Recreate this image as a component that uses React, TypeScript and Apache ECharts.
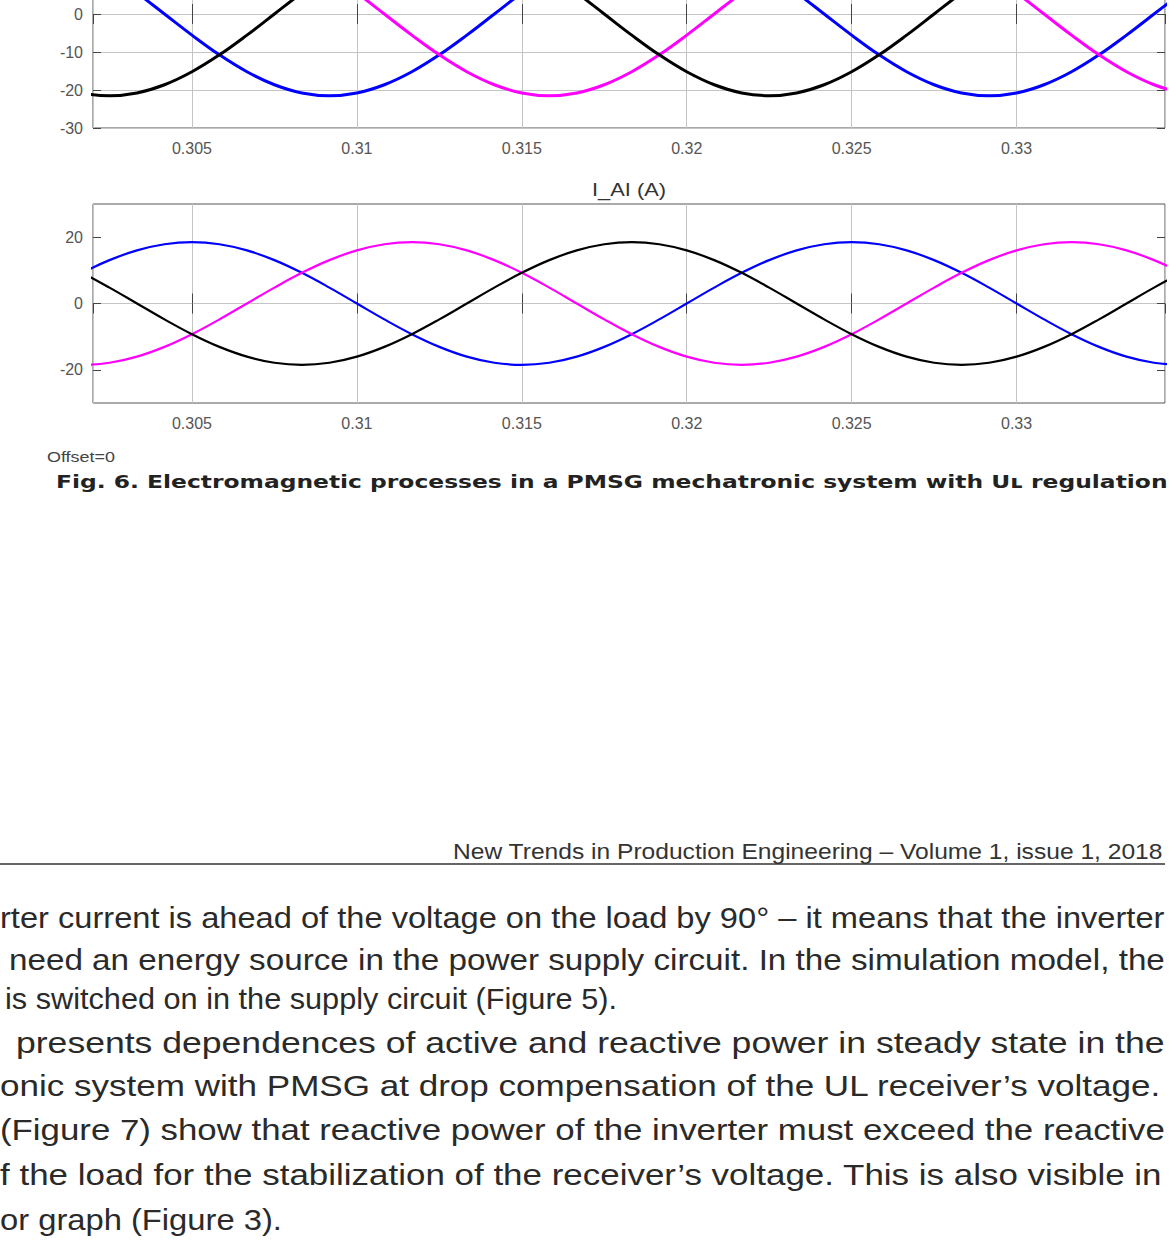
import React, { useEffect, useRef } from "react";
import * as echarts from "echarts";

// ---- data (samples every 15 electrical degrees) ----
const TIME = [
  0.300833, 0.301667, 0.3025, 0.303333, 0.304167, 0.305, 0.305833, 0.306667,
  0.3075, 0.308333, 0.309167, 0.31, 0.310833, 0.311667, 0.3125, 0.313333,
  0.314167, 0.315, 0.315833, 0.316667, 0.3175, 0.318333, 0.319167, 0.32,
  0.320833, 0.321667, 0.3225, 0.323333, 0.324167, 0.325, 0.325833, 0.326667,
  0.3275, 0.328333, 0.329167, 0.33, 0.330833, 0.331667, 0.3325, 0.333333,
  0.334167, 0.335,
];

// upper panel (voltage, only its lower half is visible)
const U_BLUE = [
  18.62, 15.2, 10.75, 5.56, 0, -5.56, -10.75, -15.2, -18.62, -20.77,
  -21.5, -20.77, -18.62, -15.2, -10.75, -5.56, 0, 5.56, 10.75, 15.2,
  18.62, 20.77, 21.5, 20.77, 18.62, 15.2, 10.75, 5.56, 0, -5.56,
  -10.75, -15.2, -18.62, -20.77, -21.5, -20.77, -18.62, -15.2, -10.75, -5.56,
  0, 5.56,
];
const U_MAGENTA = [
  0, 5.56, 10.75, 15.2, 18.62, 20.77, 21.5, 20.77, 18.62, 15.2,
  10.75, 5.56, 0, -5.56, -10.75, -15.2, -18.62, -20.77, -21.5, -20.77,
  -18.62, -15.2, -10.75, -5.56, 0, 5.56, 10.75, 15.2, 18.62, 20.77,
  21.5, 20.77, 18.62, 15.2, 10.75, 5.56, 0, -5.56, -10.75, -15.2,
  -18.62, -20.77,
];
const U_BLACK = [
  -18.62, -20.77, -21.5, -20.77, -18.62, -15.2, -10.75, -5.56, 0, 5.56,
  10.75, 15.2, 18.62, 20.77, 21.5, 20.77, 18.62, 15.2, 10.75, 5.56,
  0, -5.56, -10.75, -15.2, -18.62, -20.77, -21.5, -20.77, -18.62, -15.2,
  -10.75, -5.56, 0, 5.56, 10.75, 15.2, 18.62, 20.77, 21.5, 20.77,
  18.62, 15.2,
];

// lower panel I_AI (A)
const I_BLUE = [
  4.79, 9.25, 13.08, 16.02, 17.87, 18.5, 17.87, 16.02, 13.08, 9.25,
  4.79, 0, -4.79, -9.25, -13.08, -16.02, -17.87, -18.5, -17.87, -16.02,
  -13.08, -9.25, -4.79, 0, 4.79, 9.25, 13.08, 16.02, 17.87, 18.5,
  17.87, 16.02, 13.08, 9.25, 4.79, 0, -4.79, -9.25, -13.08, -16.02,
  -17.87, -18.5,
];
const I_MAGENTA = [
  -17.87, -18.5, -17.87, -16.02, -13.08, -9.25, -4.79, 0, 4.79, 9.25,
  13.08, 16.02, 17.87, 18.5, 17.87, 16.02, 13.08, 9.25, 4.79, 0,
  -4.79, -9.25, -13.08, -16.02, -17.87, -18.5, -17.87, -16.02, -13.08, -9.25,
  -4.79, 0, 4.79, 9.25, 13.08, 16.02, 17.87, 18.5, 17.87, 16.02,
  13.08, 9.25,
];
const I_BLACK = [
  13.08, 9.25, 4.79, 0, -4.79, -9.25, -13.08, -16.02, -17.87, -18.5,
  -17.87, -16.02, -13.08, -9.25, -4.79, 0, 4.79, 9.25, 13.08, 16.02,
  17.87, 18.5, 17.87, 16.02, 13.08, 9.25, 4.79, 0, -4.79, -9.25,
  -13.08, -16.02, -17.87, -18.5, -17.87, -16.02, -13.08, -9.25, -4.79, 0,
  4.79, 9.25,
];

const X_MIN = 0.302;
const X_MAX = 0.3345;
const Y_MIN = -30;
const Y_MAX = 30;
const LOWER_LABELS = [-20, 0, 20];

const CURRENT_TITLE = "I_AI (A)";
const OFFSET_LABEL = "Offset=0";
const CAPTION =
  "Fig. 6. Electromagnetic processes in a PMSG mechatronic system with U\u029F regulation";
const HEADER = "New Trends in Production Engineering \u2013 Volume 1, issue 1, 2018";
const BODY_LINES = [
  "rter current is ahead of the voltage on the load by 90\u00B0 \u2013 it means that the inverter",
  "need an energy source in the power supply circuit. In the simulation model, the",
  "is switched on in the supply circuit (Figure 5).",
  "presents dependences of active and reactive power in steady state in the",
  "onic system with PMSG at drop compensation of the UL receiver\u2019s voltage.",
  "(Figure 7) show that reactive power of the inverter must exceed the reactive",
  "f the load for the stabilization of the receiver\u2019s voltage. This is also visible in",
  "or graph (Figure 3).",
];

// ---- layout ----
const W = 1170;
const H = 1260;
const OFF = 120; // chart canvas starts above the page so the upper panel is cut
const BODY_LAYOUT = [
  [0, 1165, 918],
  [9, 1165, 960],
  [5, 617, 999],
  [16, 1165, 1043],
  [0, 1162, 1086],
  [0, 1165, 1130],
  [0, 1162, 1175],
  [0, 282, 1220],
];

const SANS = "Liberation Sans";

let measureCtx: CanvasRenderingContext2D | null = null;
function measureWidth(text: string, font: string) {
  if (!measureCtx) measureCtx = document.createElement("canvas").getContext("2d");
  if (!measureCtx) return 0;
  measureCtx.font = font;
  return measureCtx.measureText(text).width;
}

function fitText(
  text: string,
  left: number,
  right: number,
  cy: number,
  size: number,
  family: string,
  weight: string,
  fill: string
) {
  const w = measureWidth(text, `${weight} ${size}px "${family}"`);
  const s = w > 0 ? (right - left) / w : 1;
  return {
    type: "text",
    x: left,
    y: cy + OFF,
    scaleX: s,
    scaleY: 1,
    silent: true,
    z: 10,
    style: {
      text,
      fontSize: size,
      fontFamily: family,
      fontWeight: weight,
      fill,
      textAlign: "left",
      textVerticalAlign: "middle",
    },
  };
}

const LABEL = { fontSize: 16, color: "#555", fontFamily: SANS };
const GRID_LINE = "#c4c4c4";
const TICK = "#444";

function xAxes(gridIndex: number) {
  return [
    {
      gridIndex,
      type: "value",
      min: X_MIN,
      max: X_MAX,
      splitNumber: 6,
      position: "bottom",
      axisLine: { show: false },
      axisTick: { show: true, inside: true, length: 10, lineStyle: { color: TICK } },
      axisLabel: { ...LABEL, margin: 12, showMinLabel: false, showMaxLabel: false },
      splitLine: { show: true, lineStyle: { color: GRID_LINE, width: 1 } },
    },
    {
      gridIndex,
      type: "value",
      min: X_MIN,
      max: X_MAX,
      splitNumber: 6,
      position: "top",
      axisLine: { show: false },
      axisTick: { show: true, inside: true, length: 10, lineStyle: { color: TICK } },
      axisLabel: { show: false },
      splitLine: { show: false },
    },
  ];
}

function yAxes(gridIndex: number, lower: boolean) {
  const tick = lower
    ? { show: true, inside: true, length: 8, customValues: LOWER_LABELS, lineStyle: { color: TICK } }
    : { show: true, inside: true, length: 8, lineStyle: { color: TICK } };
  return [
    {
      gridIndex,
      type: "value",
      min: Y_MIN,
      max: Y_MAX,
      interval: 10,
      position: "left",
      axisLine: { show: false },
      axisTick: tick,
      axisLabel: {
        ...LABEL,
        margin: 10,
        showMinLabel: true,
        showMaxLabel: true,
        formatter: (v: number) =>
          lower
            ? LOWER_LABELS.indexOf(v) >= 0
              ? String(v)
              : ""
            : v <= 0
            ? String(v)
            : "",
      },
      splitLine: {
        show: true,
        lineStyle: {
          color: lower ? ["rgba(0,0,0,0)", GRID_LINE] : GRID_LINE,
          width: 1,
        },
      },
    },
    {
      gridIndex,
      type: "value",
      min: Y_MIN,
      max: Y_MAX,
      interval: 10,
      position: "right",
      axisLine: { show: false },
      axisTick: tick,
      axisLabel: { show: false },
      splitLine: { show: false },
    },
  ];
}

function line(values: number[], color: string, xi: number, yi: number, width: number) {
  return {
    type: "line",
    xAxisIndex: xi,
    yAxisIndex: yi,
    data: TIME.map((t, i) => [t, values[i]]),
    showSymbol: false,
    smooth: 0.4,
    color,
    lineStyle: { color, width },
    clip: true,
    silent: true,
  };
}

export default function App() {
  const ref = useRef<HTMLDivElement>(null);

  useEffect(() => {
    if (!ref.current) return;
    const chart = echarts.init(ref.current, undefined, { renderer: "svg" });

    const graphics: any[] = [];
    graphics.push(fitText(CURRENT_TITLE, 592, 666, 190, 18, SANS, "normal", "#333"));
    graphics.push(fitText(OFFSET_LABEL, 47, 115, 457, 14, SANS, "normal", "#444"));
    graphics.push(fitText(CAPTION, 56, 1168, 482, 18, "DejaVu Sans", "bold", "#222"));
    graphics.push(fitText(HEADER, 453, 1163, 851, 22, SANS, "normal", "#333"));
    graphics.push({
      type: "line",
      silent: true,
      shape: { x1: 0, y1: 864 + OFF, x2: 1165, y2: 864 + OFF },
      style: { stroke: "#333", lineWidth: 1.6 },
    });
    BODY_LINES.forEach((t, i) => {
      const [l, r, cy] = BODY_LAYOUT[i];
      graphics.push(fitText(t, l, r, cy, 29, SANS, "normal", "#2a2a2a"));
    });

    const option: any = {
      animation: false,
      backgroundColor: "#ffffff",
      grid: [
        {
          left: 93,
          top: 20,
          width: 1072,
          height: 228,
          show: true,
          borderColor: "#555",
          borderWidth: 1,
          backgroundColor: "transparent",
        },
        {
          left: 93,
          top: 324,
          width: 1072,
          height: 199,
          show: true,
          borderColor: "#555",
          borderWidth: 1,
          backgroundColor: "transparent",
        },
      ],
      xAxis: [...xAxes(0), ...xAxes(1)],
      yAxis: [...yAxes(0, false), ...yAxes(1, true)],
      series: [
        line(U_BLUE, "#0000ff", 0, 0, 3),
        line(U_MAGENTA, "#ff00ff", 0, 0, 3),
        line(U_BLACK, "#000000", 0, 0, 3),
        line(I_BLUE, "#0000ff", 2, 2, 2.2),
        line(I_MAGENTA, "#ff00ff", 2, 2, 2.2),
        line(I_BLACK, "#000000", 2, 2, 2.2),
      ],
      graphic: graphics,
    };
    chart.setOption(option);
    return () => chart.dispose();
  }, []);

  return (
    <div
      style={{
        position: "absolute",
        left: 0,
        top: 0,
        width: W,
        height: H,
        overflow: "hidden",
        background: "#fff",
      }}
    >
      <div
        ref={ref}
        style={{ position: "absolute", left: 0, top: -OFF, width: W, height: H + OFF }}
      />
    </div>
  );
}
